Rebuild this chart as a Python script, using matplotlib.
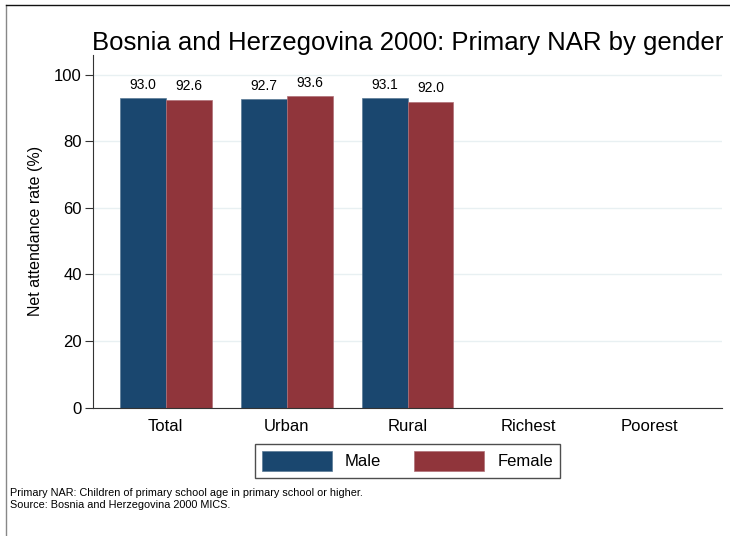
import numpy as np
import matplotlib.pyplot as plt
from matplotlib.lines import Line2D

plt.rcParams['font.family'] = ['Liberation Sans', 'DejaVu Sans']

# --- data ---
categories = ['Total', 'Urban', 'Rural', 'Richest', 'Poorest']
male = [93.0, 92.7, 93.1, np.nan, np.nan]
female = [92.6, 93.6, 92.0, np.nan, np.nan]
series_names = ['Male', 'Female']

male_color = '#1a476f'
female_color = '#90353b'

fig = plt.figure(figsize=(7.3, 5.36), dpi=100)
ax = fig.add_axes([93 / 730, 1 - 407.5 / 536, (722 - 93) / 730, (407.5 - 55) / 536])

x = np.arange(len(categories))
w = 0.38
b1 = ax.bar(x - w / 2, male, w, color=male_color, edgecolor='#5a7a96', linewidth=0.5, label=series_names[0])
b2 = ax.bar(x + w / 2, female, w, color=female_color, edgecolor='#b07078', linewidth=0.5, label=series_names[1])

for bars, vals in ((b1, male), (b2, female)):
    for rect, v in zip(bars, vals):
        if np.isnan(v):
            continue
        ax.annotate(f'{v:.1f}', (rect.get_x() + rect.get_width() / 2, v),
                    xytext=(0, 4.5), textcoords='offset points',
                    ha='center', va='bottom', fontsize=10)

ax.set_xlim(-0.6, 4.6)
ax.set_ylim(0, 106)
ax.set_yticks([0, 20, 40, 60, 80, 100])
ax.set_xticks(x)
ax.set_xticklabels(categories, fontsize=12)
ax.tick_params(axis='y', labelsize=12, length=6, width=0.8, color='#333333', pad=2)
ax.tick_params(axis='x', length=0, pad=8)
ax.yaxis.grid(True, color='#e8f0f2', linewidth=1)
ax.set_axisbelow(True)
for s in ('top', 'right'):
    ax.spines[s].set_visible(False)
for s in ('left', 'bottom'):
    ax.spines[s].set_color('#333333')
    ax.spines[s].set_linewidth(0.8)

ax.set_ylabel('Net attendance rate (%)', fontsize=11.5, labelpad=8)
ax.set_title('Bosnia and Herzegovina 2000: Primary NAR by gender', fontsize=18.5, pad=0)

leg = ax.legend(loc='upper center', bbox_to_anchor=(0.5, -0.08), ncol=2,
                fontsize=12, frameon=True, fancybox=False, edgecolor='#222222',
                handlelength=4.2, handleheight=1.5, columnspacing=2.0,
                borderpad=0.4, handletextpad=0.8)
leg.get_frame().set_linewidth(1.0)

fig.text(10 / 730, 1 - 493 / 536, 'Primary NAR: Children of primary school age in primary school or higher.',
         fontsize=7.8, va='center', ha='left')
fig.text(10 / 730, 1 - 505 / 536, 'Source: Bosnia and Herzegovina 2000 MICS.',
         fontsize=7.8, va='center', ha='left')

# outer frame (left and top)
fig.add_artist(Line2D([6 / 730, 6 / 730], [0, 1 - 5 / 536], transform=fig.transFigure, color='#888888', lw=1))
fig.add_artist(Line2D([6 / 730, 1], [1 - 5 / 536, 1 - 5 / 536], transform=fig.transFigure, color='#111111', lw=1))

fig.savefig('out.png', dpi=100, facecolor='white')
